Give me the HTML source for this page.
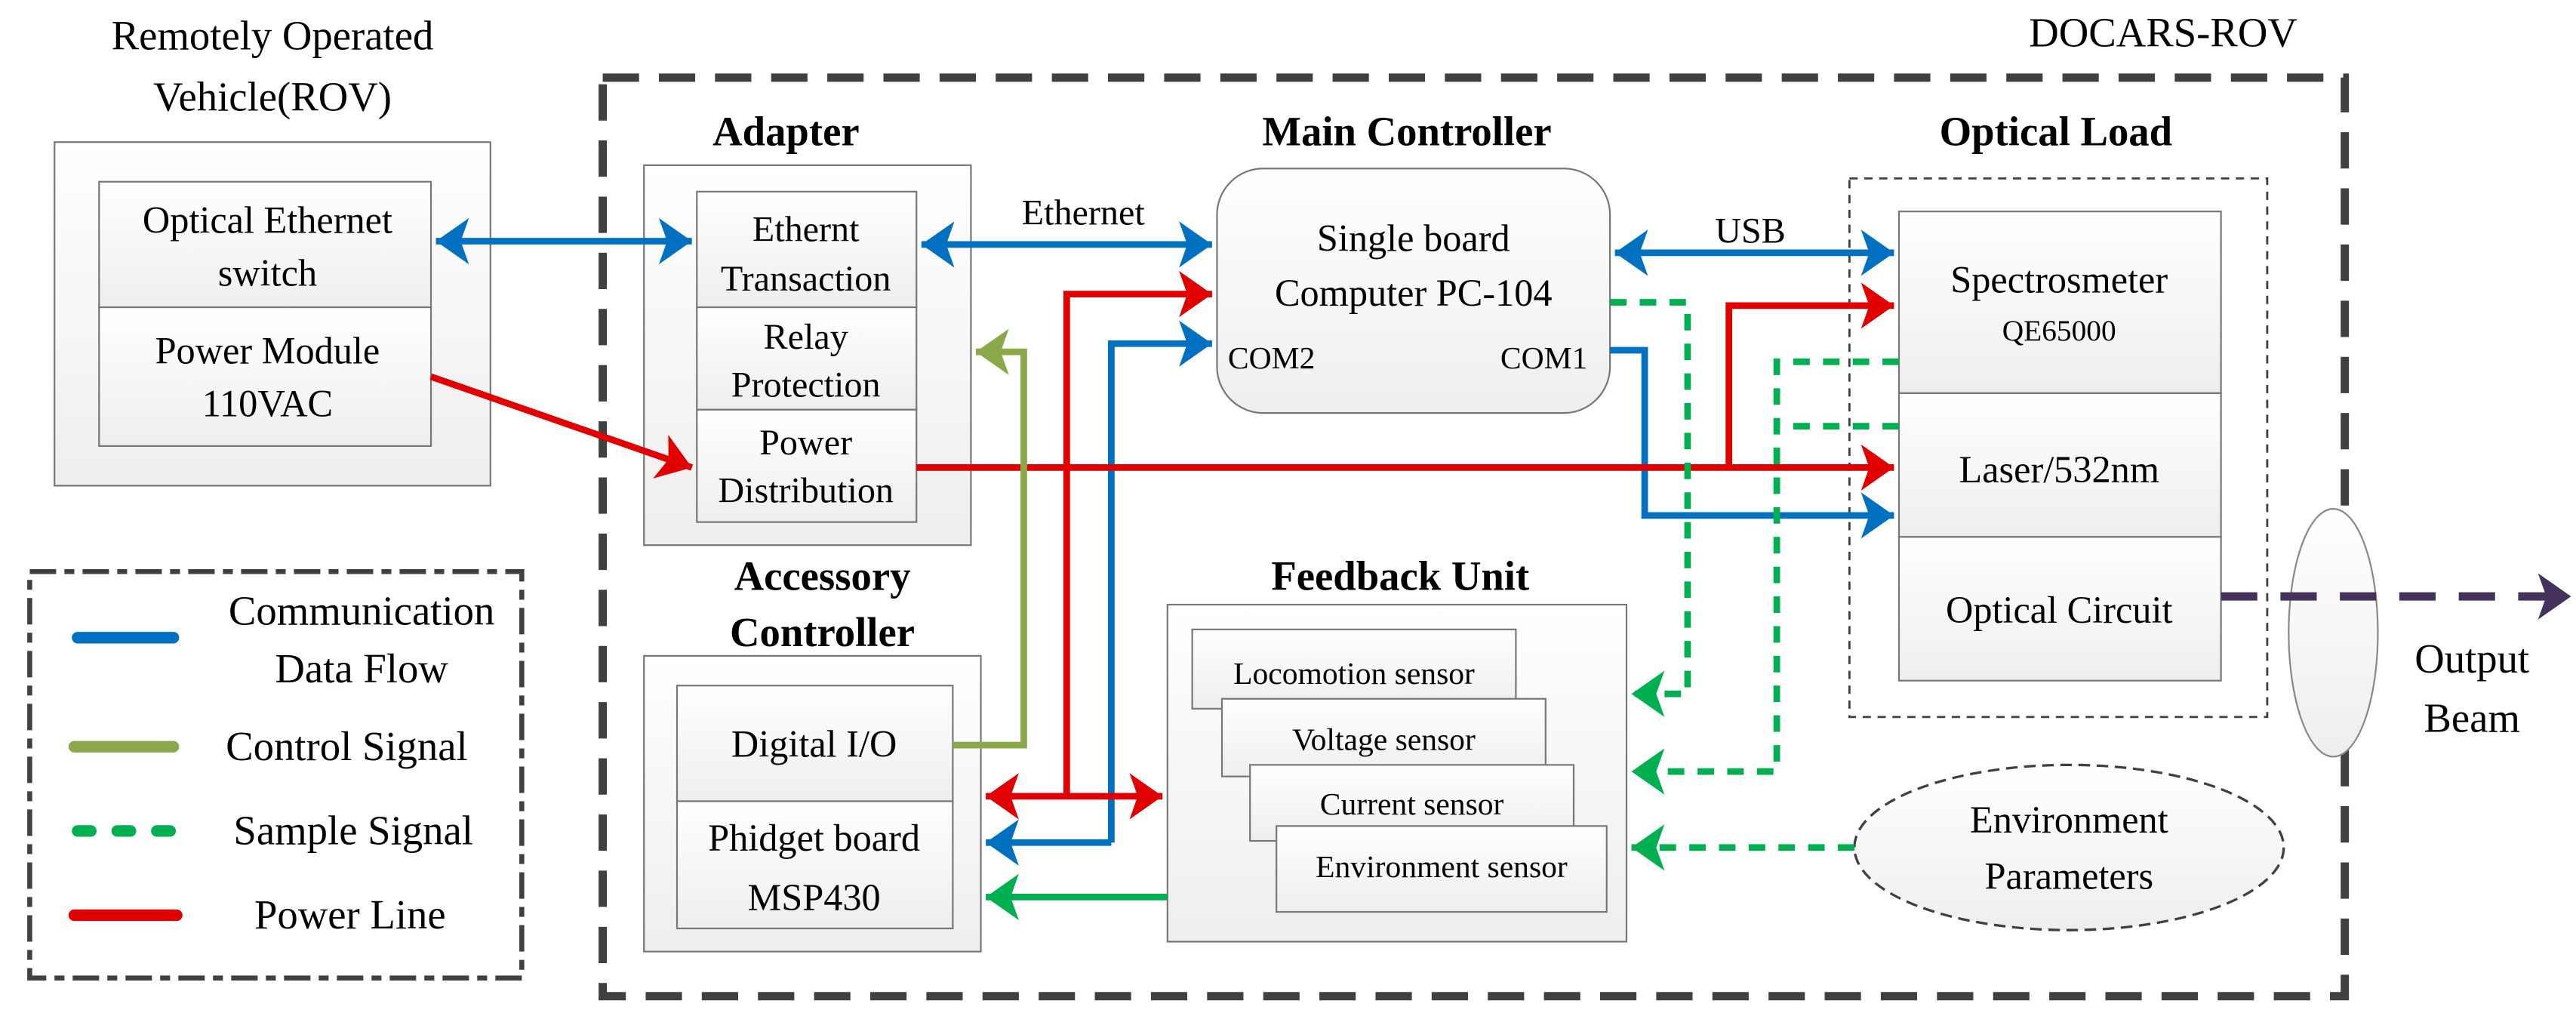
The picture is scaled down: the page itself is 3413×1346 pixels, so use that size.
<!DOCTYPE html>
<html><head><meta charset="utf-8"><style>
html,body{margin:0;padding:0;background:#fff;overflow:hidden}
#wrap{position:absolute;left:0;top:0;width:1560px;height:615px;transform:scale(2.18782,2.18862);transform-origin:0 0}
svg{position:absolute;left:0;top:0;display:block}
.t{position:absolute;font-family:"Liberation Serif","Times New Roman",serif;white-space:nowrap;line-height:1;transform:translateX(-50%);color:#000}
.b{font-weight:bold}
</style></head>
<body><div id="wrap">
<svg width="1560" height="615" viewBox="0 0 1560 615" xmlns="http://www.w3.org/2000/svg">
<defs>
<linearGradient id="g" x1="0" y1="0" x2="0" y2="1"><stop offset="0" stop-color="#ffffff"/><stop offset="1" stop-color="#eeeeee"/></linearGradient>
<marker id="mb" markerUnits="userSpaceOnUse" markerWidth="26" markerHeight="30" refX="20" refY="14" orient="auto-start-reverse"><path d="M0,0 L20,14 L0,28 L5,14 Z" fill="#0070C0"/></marker>
<marker id="mr" markerUnits="userSpaceOnUse" markerWidth="26" markerHeight="30" refX="20" refY="14" orient="auto-start-reverse"><path d="M0,0 L20,14 L0,28 L5,14 Z" fill="#E00000"/></marker>
<marker id="mg" markerUnits="userSpaceOnUse" markerWidth="26" markerHeight="30" refX="20" refY="14" orient="auto-start-reverse"><path d="M0,0 L20,14 L0,28 L5,14 Z" fill="#8BA84B"/></marker>
<marker id="ms" markerUnits="userSpaceOnUse" markerWidth="26" markerHeight="30" refX="20" refY="14" orient="auto-start-reverse"><path d="M0,0 L20,14 L0,28 L5,14 Z" fill="#00B050"/></marker>
<marker id="mp" markerUnits="userSpaceOnUse" markerWidth="26" markerHeight="30" refX="20" refY="14" orient="auto-start-reverse"><path d="M0,0 L20,14 L0,28 L5,14 Z" fill="#44325A"/></marker>
</defs>
<rect x="365" y="47" width="1055" height="556" fill="none" stroke="#404040" stroke-width="5" stroke-dasharray="22,12"/>
<rect x="18" y="346" width="298" height="246" fill="none" stroke="#404040" stroke-width="3" stroke-dasharray="16,5,6,5"/>
<line x1="47" y1="386" x2="105" y2="386" stroke="#0070C0" stroke-width="7" stroke-linecap="round"/>
<line x1="45" y1="452" x2="105" y2="452" stroke="#8BA84B" stroke-width="7" stroke-linecap="round"/>
<line x1="47" y1="503" x2="107" y2="503" stroke="#00B050" stroke-width="7" stroke-linecap="round" stroke-dasharray="8,16"/>
<line x1="45" y1="554" x2="107" y2="554" stroke="#E00000" stroke-width="7" stroke-linecap="round"/>
<g stroke="#777" stroke-width="1" fill="url(#g)">
<rect x="33" y="86" width="264" height="208"/>
<rect x="60" y="110" width="201" height="76"/>
<rect x="60" y="186" width="201" height="84"/>
<rect x="390" y="100" width="198" height="230"/>
<rect x="422" y="116" width="133" height="70"/>
<rect x="422" y="186" width="133" height="62"/>
<rect x="422" y="248" width="133" height="68"/>
<rect x="737" y="102" width="238" height="148" rx="28"/>
<rect x="390" y="397" width="204" height="179"/>
<rect x="410" y="415" width="167" height="70"/>
<rect x="410" y="485" width="167" height="77"/>
<rect x="707" y="366" width="278" height="204"/>
<rect x="722" y="381" width="196" height="48"/>
<rect x="740" y="423" width="196" height="47"/>
<rect x="757" y="463" width="196" height="46"/>
<rect x="773" y="500" width="200" height="52"/>
<rect x="1150" y="128" width="195" height="110"/>
<rect x="1150" y="238" width="195" height="87"/>
<rect x="1150" y="325" width="195" height="87"/>
</g>
<rect x="1120" y="108" width="253" height="326" fill="none" stroke="#404040" stroke-width="1.3" stroke-dasharray="5,4"/>
<ellipse cx="1413" cy="383" rx="27" ry="75" fill="url(#g)" stroke="#888" stroke-width="1"/>
<ellipse cx="1253" cy="513" rx="130" ry="50" fill="url(#g)" stroke="#404040" stroke-width="1.5" stroke-dasharray="7,4"/>
<g fill="none" stroke-width="4" stroke-linejoin="miter">
<path d="M264,146 L419,146" stroke="#0070C0" marker-start="url(#mb)" marker-end="url(#mb)"/>
<path d="M558,148 L734,148" stroke="#0070C0" marker-start="url(#mb)" marker-end="url(#mb)"/>
<path d="M978,153 L1147,153" stroke="#0070C0" marker-start="url(#mb)" marker-end="url(#mb)"/>
<path d="M975,212 L996,212 L996,312 L1147,312" stroke="#0070C0" marker-end="url(#mb)"/>
<path d="M673,510 L673,208 L734,208" stroke="#0070C0" marker-end="url(#mb)"/>
<path d="M673,510 L597,510" stroke="#0070C0" marker-end="url(#mb)"/>
<path d="M261,228 L419,283" stroke="#E00000" marker-end="url(#mr)"/>
<path d="M555,283 L1147,283" stroke="#E00000" marker-end="url(#mr)"/>
<path d="M1047,283 L1047,185 L1147,185" stroke="#E00000" marker-end="url(#mr)"/>
<path d="M646,482 L646,178 L734,178" stroke="#E00000" marker-end="url(#mr)"/>
<path d="M597,482 L704,482" stroke="#E00000" marker-start="url(#mr)" marker-end="url(#mr)"/>
<path d="M577,451 L620,451 L620,213 L591,213" stroke="#8BA84B" marker-end="url(#mg)"/>
<path d="M707,543 L597,543" stroke="#00B050" marker-end="url(#ms)"/>
<g stroke="#00B050" stroke-dasharray="10,8">
<path d="M975,183 L1022,183 L1022,420 L988,420" marker-end="url(#ms)"/>
<path d="M1150,219 L1076,219 L1076,467 L988,467" marker-end="url(#ms)"/>
<path d="M1150,258 L1076,258"/>
<path d="M1123,513 L988,513" marker-end="url(#ms)"/>
</g>
<path d="M1345,361 L1557,361" stroke="#44325A" stroke-width="5" stroke-dasharray="22,14" marker-end="url(#mp)"/>
</g>
</svg>

<div class="t" style="left:165px;top:10px;font-size:25px">Remotely Operated</div>
<div class="t" style="left:165px;top:47px;font-size:25px">Vehicle(ROV)</div>
<div class="t" style="left:1310px;top:8px;font-size:25px">DOCARS-ROV</div>
<div class="t b" style="left:476px;top:68px;font-size:25px">Adapter</div>
<div class="t b" style="left:852px;top:68px;font-size:25px">Main Controller</div>
<div class="t b" style="left:1245px;top:68px;font-size:25px">Optical Load</div>
<div class="t b" style="left:498px;top:337px;font-size:25px">Accessory</div>
<div class="t b" style="left:498px;top:371px;font-size:25px">Controller</div>
<div class="t b" style="left:848px;top:337px;font-size:25px">Feedback Unit</div>

<div class="t" style="left:219px;top:358px;font-size:25px">Communication</div>
<div class="t" style="left:219px;top:393px;font-size:25px">Data Flow</div>
<div class="t" style="left:210px;top:440px;font-size:25px">Control Signal</div>
<div class="t" style="left:214px;top:491px;font-size:25px">Sample Signal</div>
<div class="t" style="left:212px;top:542px;font-size:25px">Power Line</div>

<div class="t" style="left:162px;top:122px;font-size:23px">Optical Ethernet</div>
<div class="t" style="left:162px;top:154px;font-size:23px">switch</div>
<div class="t" style="left:162px;top:201px;font-size:23px">Power Module</div>
<div class="t" style="left:162px;top:233px;font-size:23px">110VAC</div>
<div class="t" style="left:488px;top:128px;font-size:22px">Ethernt</div>
<div class="t" style="left:488px;top:158px;font-size:22px">Transaction</div>
<div class="t" style="left:488px;top:193px;font-size:22px">Relay</div>
<div class="t" style="left:488px;top:222px;font-size:22px">Protection</div>
<div class="t" style="left:488px;top:257px;font-size:22px">Power</div>
<div class="t" style="left:488px;top:286px;font-size:22px">Distribution</div>
<div class="t" style="left:656px;top:118px;font-size:22px">Ethernet</div>
<div class="t" style="left:856px;top:133px;font-size:23px">Single board</div>
<div class="t" style="left:856px;top:166px;font-size:23px">Computer PC-104</div>
<div class="t" style="left:770px;top:208px;font-size:19px">COM2</div>
<div class="t" style="left:935px;top:208px;font-size:19px">COM1</div>
<div class="t" style="left:1060px;top:129px;font-size:22px">USB</div>
<div class="t" style="left:1247px;top:158px;font-size:23px">Spectrosmeter</div>
<div class="t" style="left:1247px;top:191px;font-size:18px">QE65000</div>
<div class="t" style="left:1247px;top:273px;font-size:23px">Laser/532nm</div>
<div class="t" style="left:1247px;top:358px;font-size:23px">Optical Circuit</div>
<div class="t" style="left:1497px;top:387px;font-size:25px">Output</div>
<div class="t" style="left:1497px;top:423px;font-size:25px">Beam</div>
<div class="t" style="left:493px;top:439px;font-size:23px">Digital I/O</div>
<div class="t" style="left:493px;top:496px;font-size:23px">Phidget board</div>
<div class="t" style="left:493px;top:532px;font-size:23px">MSP430</div>
<div class="t" style="left:820px;top:399px;font-size:19px">Locomotion sensor</div>
<div class="t" style="left:838px;top:439px;font-size:19px">Voltage sensor</div>
<div class="t" style="left:855px;top:478px;font-size:19px">Current sensor</div>
<div class="t" style="left:873px;top:516px;font-size:19px">Environment sensor</div>
<div class="t" style="left:1253px;top:485px;font-size:23px">Environment</div>
<div class="t" style="left:1253px;top:519px;font-size:23px">Parameters</div>
</div></body></html>
